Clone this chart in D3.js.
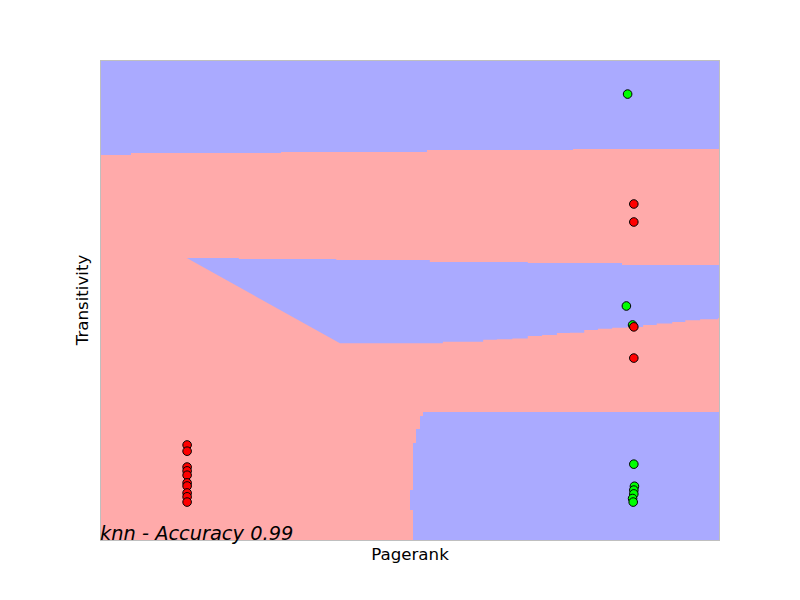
<!DOCTYPE html>
<html><head><meta charset="utf-8">
<script src="https://cdn.jsdelivr.net/npm/d3@7"></script>
<style>body{margin:0;background:#fff;} text{font-family:"DejaVu Sans",sans-serif;}</style>
</head><body>
<svg id="chart" width="800" height="600"></svg>
<script>
// Decision-region boundaries (data units: Pagerank, Transitivity, both normalised 0..1)
const topBlueRegion = [[0,1],[1,1],[1,0.815],[0.763,0.815],[0.763,0.8125],[0.527,0.8125],[0.527,0.808],[0.292,0.808],[0.292,0.806],[0.05,0.806],[0.05,0.802],[0,0.802]];
const midBandTop = [[0.140,0.5875],[0.224,0.5875],[0.224,0.5854],[0.381,0.5854],[0.381,0.5833],[0.532,0.5833],[0.532,0.579],[0.690,0.579],[0.690,0.577],[0.842,0.577],[0.842,0.573],[1,0.573]];
const midBandBottom = [[1,0.4625],[0.997,0.4625],[0.997,0.460],[0.968,0.460],[0.968,0.458],[0.944,0.458],[0.944,0.454],[0.923,0.454],[0.923,0.451],[0.898,0.451],[0.898,0.448],[0.876,0.448],[0.876,0.444],[0.850,0.444],[0.850,0.442],[0.826,0.442],[0.826,0.440],[0.803,0.440],[0.803,0.4375],[0.781,0.4375],[0.781,0.432],[0.758,0.432],[0.758,0.431],[0.737,0.431],[0.737,0.427],[0.713,0.427],[0.713,0.425],[0.690,0.425],[0.690,0.420],[0.665,0.420],[0.665,0.418],[0.640,0.418],[0.640,0.417],[0.618,0.417],[0.618,0.413],[0.553,0.413],[0.553,0.410],[0.387,0.410],[0.140,0.5875]];
const bottomBlueRegion = [[0.521,0.2667],[1,0.2667],[1,0],[0.505,0],[0.505,0.0625],[0.500,0.0625],[0.500,0.104],[0.505,0.104],[0.505,0.202],[0.510,0.202],[0.510,0.231],[0.516,0.231],[0.516,0.2583],[0.521,0.2583]];

// Samples
const pagerank     = [0.851,0.861,0.861,0.849,0.859,0.861,0.861,0.861,0.862,0.861,0.861,0.859,0.860,
                      0.1405,0.1405,0.1405,0.1405,0.1405,0.1405,0.1405,0.1405,0.1405,0.1405];
const transitivity = [0.929,0.700,0.6625,0.4875,0.448,0.444,0.379,0.158,0.112,0.104,0.096,0.0865,0.079,
                      0.198,0.185,0.152,0.144,0.135,0.119,0.1125,0.098,0.090,0.079];
const label        = ["g","r","r","g","g","r","r","g","g","g","g","g","g",
                      "r","r","r","r","r","r","r","r","r","r"];

const svg = d3.select("#chart");
const L=100,R=720,T=60,B=540;
const x = d3.scaleLinear().domain([0,1]).range([L,R]);
const y = d3.scaleLinear().domain([0,1]).range([B,T]);
const line = d3.line().x(d=>x(d[0])).y(d=>y(d[1]));

const g = svg.append("g");
g.append("rect").attr("x",x(0)).attr("y",y(1)).attr("width",x(1)-x(0)).attr("height",y(0)-y(1)).attr("fill","#ffaaaa");
g.append("path").attr("d",line(topBlueRegion)+"Z").attr("fill","#aaaaff").attr("shape-rendering","crispEdges");
g.append("path").attr("d",line(midBandTop.concat(midBandBottom))+"Z").attr("fill","#aaaaff");
g.append("path").attr("d",line(bottomBlueRegion)+"Z").attr("fill","#aaaaff").attr("shape-rendering","crispEdges");

// frame
svg.append("rect").attr("x",x(0)+0.5).attr("y",y(1)+0.5).attr("width",x(1)-x(0)-1).attr("height",y(0)-y(1))
  .attr("fill","none").attr("stroke","#bfbfbf").attr("stroke-width",1);

// points
const idx = d3.range(pagerank.length);
svg.append("g").selectAll("circle").data(idx).join("circle")
  .attr("cx",i=>x(pagerank[i])).attr("cy",i=>y(transitivity[i])).attr("r",4.3)
  .attr("fill",i=>label[i]==="g"?"#00ff00":"#ff0000").attr("stroke","#000").attr("stroke-width",1);

svg.append("text").attr("x",(L+R)/2).attr("y",560).attr("text-anchor","middle").attr("font-size","16.67px").text("Pagerank");
svg.append("text").attr("transform",`translate(88,${(T+B)/2}) rotate(-90)`).attr("text-anchor","middle").attr("font-size","16.67px").text("Transitivity");
svg.append("text").attr("x",L).attr("y",540).attr("font-size","19.4px").attr("font-style","italic").text("knn - Accuracy 0.99");
</script>
</body></html>
